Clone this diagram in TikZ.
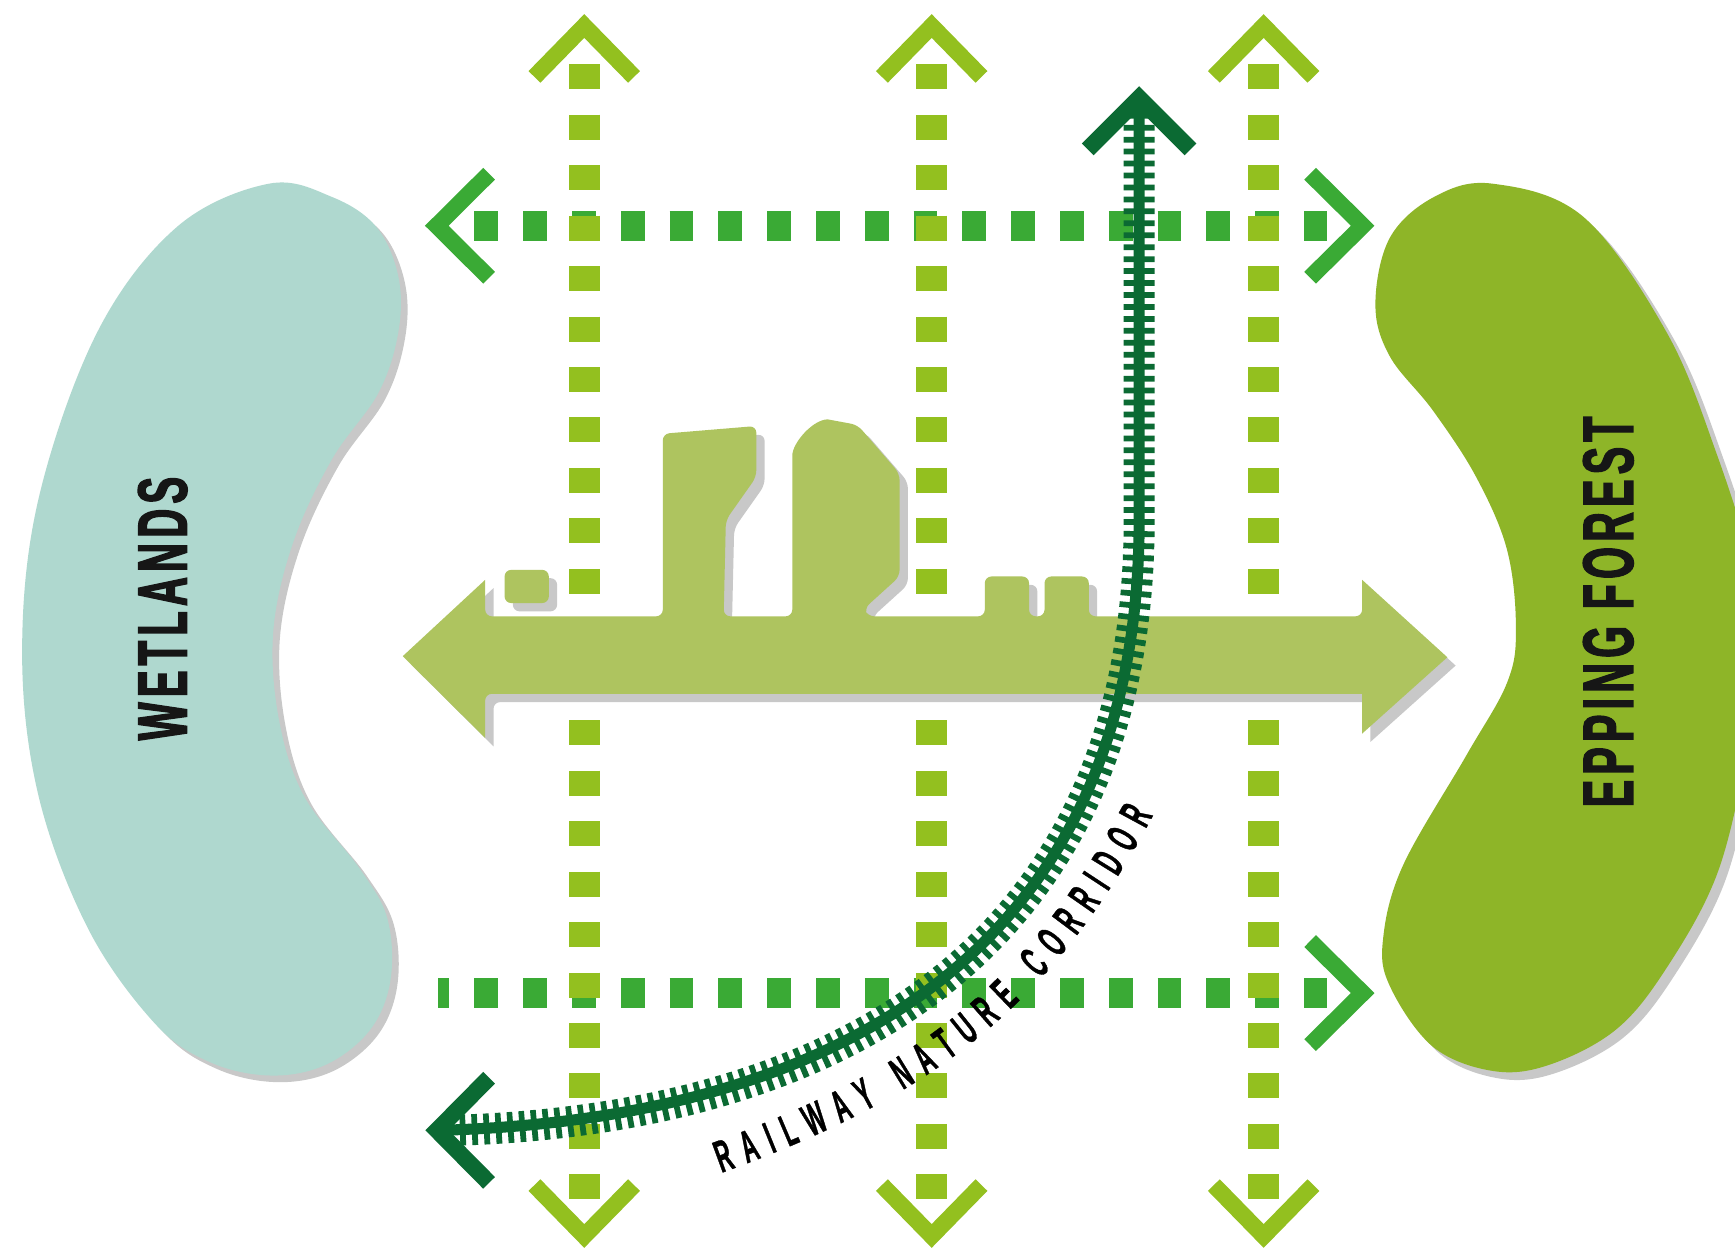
\documentclass[tikz,border=0pt]{standalone}
\usepackage{fontspec}
\usepackage{graphicx}
\usetikzlibrary{decorations.text}
\newfontfamily\headfont{Liberation Sans Bold}[FakeStretch=0.62, LetterSpace=8, FakeBold=2]
\newfontfamily\railfont{Liberation Sans Bold}[FakeStretch=0.48, FakeBold=0.8]
\definecolor{wetc}{RGB}{175,216,207}
\definecolor{eppc}{RGB}{142,181,40}
\definecolor{arrc}{RGB}{174,196,95}
\definecolor{vdash}{RGB}{147,192,31}
\definecolor{hdash}{RGB}{58,170,53}
\definecolor{railc}{RGB}{11,106,51}
\definecolor{shadec}{RGB}{200,200,200}
\definecolor{inkc}{RGB}{22,22,22}
\tikzset{
  vdashline/.style={draw=vdash, line width=14pt, dash pattern=on 11.3pt off 11.5pt},
  hdashline/.style={draw=hdash, line width=13.5pt, dash pattern=on 10.7pt off 11.35pt},
  vchev/.style={draw=vdash, line width=7.5pt, line join=miter},
  hchev/.style={draw=hdash, line width=7.5pt, line join=miter},
  railchev/.style={draw=railc, line width=7.5pt, line join=miter},
  label/.style={rotate=90, inner sep=0pt, text=inkc},
}
\newcommand\wetshape{plot[smooth cycle, tension=0.6] coordinates {(243,166) (300,178) (340,205) (360,250) (360,300) (342,355) (300,415) (265,490) (247,570) (252,650) (275,720) (325,785) (350,830) (353,885) (335,930) (295,962) (245,972) (190,960) (140,925) (80,840) (35,720) (20,590) (35,450) (88,300) (160,205)}}
\newcommand\eppshape{plot[smooth cycle, tension=0.6] coordinates {(1349,166) (1431,196) (1506,300) (1551,409) (1585,520) (1592,600) (1577,690) (1551,792) (1506,875) (1461,930) (1401,962) (1350,968) (1295,946) (1256,891) (1250,848) (1268,782) (1325,683) (1362,617) (1370,568) (1362,497) (1334,431) (1295,371) (1256,322) (1243,275) (1256,215) (1296,178)}}
\newcommand\arrowshape{(364,593) -- (438.5,524) [rounded corners=3pt] -- (438.5,557)
  -- (599,557) -- (599,392) -- (683.5,385) -- (683.5,431) -- (656,470) -- (654,557)
  -- (716,557) -- (716,418) [sharp corners] .. controls (716,400) and (735,379) .. (748,379) [rounded corners=3pt] -- (775,384) -- (813,428) -- (813,521) -- (781,550) -- (784,557)
  -- (890,557) -- (890,521) -- (930,521) -- (930,557)
  -- (944,557) -- (944,521) -- (984,521) -- (984,557)
  -- (1231,557) [sharp corners] -- (1231,524) -- (1308,594) -- (1231,663) -- (1231,627) [rounded corners=3pt] -- (438.5,627) [sharp corners] -- (438.5,667) -- cycle}
\newcommand\railpath{(1029.5,102) -- (1029.5,470) .. controls (1029.5,870) and (740,1012) .. (410,1021.5)}
\begin{document}
\begin{tikzpicture}[x=0.5pt, y=-0.5pt]
\useasboundingbox (0,0) rectangle (1568,1130);
\fill[white] (0,0) rectangle (1568,1130);
\clip (0,0) rectangle (1568,1130);
% green areas
\fill[shadec, shift={(6,6)}] \wetshape;
\fill[wetc] \wetshape;
\fill[shadec, shift={(7,7)}] \eppshape;
\fill[eppc] \eppshape;
\node[label] (wet) at (147,550) {\resizebox{119pt}{22pt}{\headfont WETLANDS}};
\node[label] (epp) at (1453.5,553) {\resizebox{176.5pt}{22.5pt}{\headfont EPPING FOREST}};
% horizontal green links
\coordinate (h1a) at (428.8,204); \coordinate (h1b) at (1199,204);
\coordinate (h2a) at (396,897.5); \coordinate (h2b) at (1199,897.5);
\draw[hdashline] (h1a) -- (h1b);
\draw[hdashline, dash phase=5.65pt] (h2a) -- (h2b);
\draw[hchev] (442,157) -- (394.7,204) -- (442,251);
\draw[hchev] (1184,157) -- (1231.5,204) -- (1184,251);
\draw[hchev] (1184,850.5) -- (1231.5,897.5) -- (1184,944.5);
% vertical links
\foreach \vx in {528,842,1142} {
  \draw[vdashline] (\vx,58.1) -- (\vx,1084);
  \draw[vchev] (\vx-45,69.5) -- (\vx,23.5) -- (\vx+45,69.5);
  \draw[vchev] (\vx-45,1071) -- (\vx,1117) -- (\vx+45,1071);
}
% central arrow with buildings
\fill[shadec, shift={(7.5,7.5)}] \arrowshape;
\fill[shadec, rounded corners=3pt] (463.5,522.5) rectangle (503.5,552.5);
\fill[arrc] \arrowshape;
\fill[arrc, rounded corners=3pt] (456,515) rectangle (496,545);
% railway corridor
\draw[railc, line width=14pt, dash pattern=on 2.6pt off 2.8pt] \railpath;
\draw[railc, line width=5pt] (1029.5,92) -- (1029.5,470) .. controls (1029.5,870) and (740,1012) .. (398,1021.5);
\draw[railchev] (983,135) -- (1029.5,88.5) -- (1076,135);
\draw[railchev] (442,974) -- (395,1021.5) -- (442,1069);
{\railfont\fontsize{20.5pt}{22pt}\selectfont\color{inkc}
\path[decorate, decoration={text along path, text align={fit to path},
  text={RAILWAY NATURE CORRIDOR}}]
  (652,1060) .. controls (840,992) and (948,913) .. (1042,737);
}
\end{tikzpicture}
\end{document}
